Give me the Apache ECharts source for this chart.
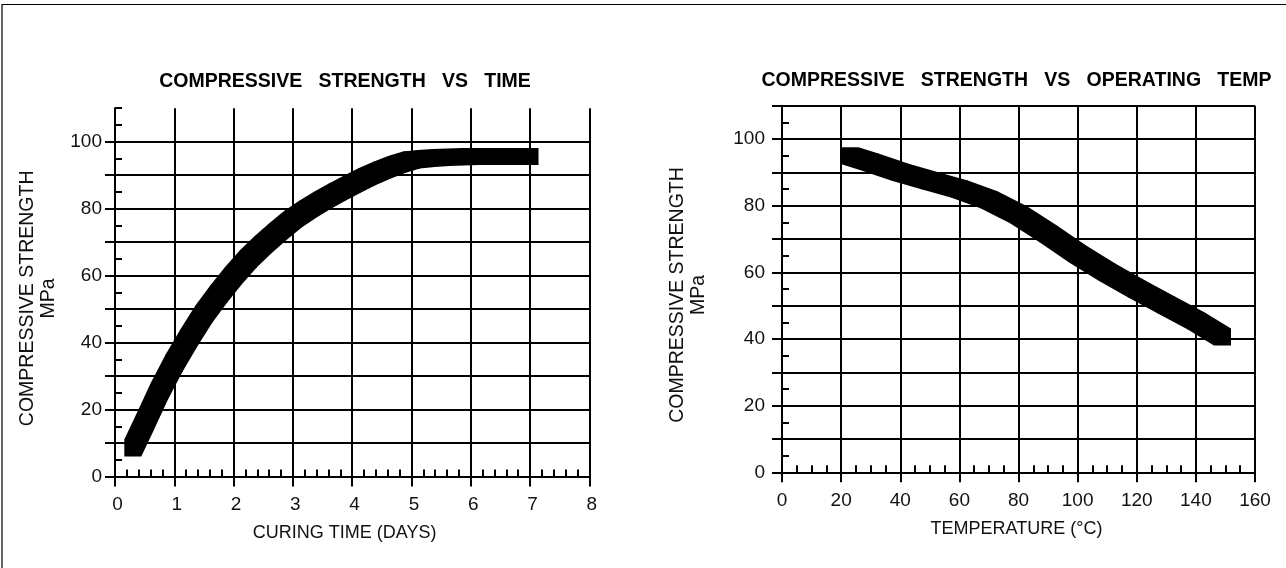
<!DOCTYPE html>
<html>
<head>
<meta charset="utf-8">
<script src="https://cdn.jsdelivr.net/npm/echarts@6/dist/echarts.min.js"></script>
<style>
html,body{margin:0;padding:0;background:#fff;}
#c{width:1286px;height:568px;}
</style>
</head>
<body>
<div id="c"></div>
<script>
// ---- data ----
const timeDays        = [0.3, 0.5, 0.75, 1, 1.25, 1.5, 1.75, 2, 2.25, 2.5, 2.75, 3, 3.25, 3.5, 3.75, 4, 4.25, 4.5, 4.75, 5, 5.25, 5.5, 6, 6.5, 7];
const strengthVsTime  = [8.5, 16, 25.5, 34, 41.5, 48.5, 54.5, 60, 65, 69.3, 73.2, 76.8, 79.8, 82.5, 85, 87.3, 89.5, 91.5, 93.2, 94.5, 95, 95.3, 95.6, 95.6, 95.6];
const tempC           = [23, 30, 40, 50, 60, 70, 80, 90, 100, 110, 120, 130, 140, 149];
const strengthVsTemp  = [95, 93, 90, 87.5, 85, 81.8, 77.3, 71.6, 65.5, 60, 55, 50.2, 45.5, 40.6];

const timeTickLabels     = [0, 1, 2, 3, 4, 5, 6, 7, 8];
const tempTickLabels     = [0, 20, 40, 60, 80, 100, 120, 140, 160];
const strengthTickLabels = [0, 20, 40, 60, 80, 100];
const strengthTickMarksL = [0, 10, 20, 30, 40, 50, 60, 70, 80, 90, 100];
const strengthTickMarksR = [0, 10, 20, 30, 40, 50, 60, 70, 80, 90, 100, 110];

const FONT = "'Liberation Sans', Arial, Helvetica, sans-serif";
const INK = '#000';
const LINE2 = { color: INK, width: 2 };

function segments(xs, ys) {
  const out = [];
  for (let i = 0; i < xs.length - 1; i++) out.push([xs[i], ys[i], xs[i + 1], ys[i + 1]]);
  return out;
}

function hull(pts) {
  pts.sort((a, b) => a[0] - b[0] || a[1] - b[1]);
  const cross = (o, a, b) => (a[0] - o[0]) * (b[1] - o[1]) - (a[1] - o[1]) * (b[0] - o[0]);
  const lower = [];
  for (const p of pts) {
    while (lower.length >= 2 && cross(lower[lower.length - 2], lower[lower.length - 1], p) <= 0) lower.pop();
    lower.push(p);
  }
  const upper = [];
  for (let i = pts.length - 1; i >= 0; i--) {
    const p = pts[i];
    while (upper.length >= 2 && cross(upper[upper.length - 2], upper[upper.length - 1], p) <= 0) upper.pop();
    upper.push(p);
  }
  upper.pop(); lower.pop();
  return lower.concat(upper);
}

// square-brush sweep between two consecutive data points
function sweep(params, api) {
  const a = api.coord([api.value(0), api.value(1)]);
  const b = api.coord([api.value(2), api.value(3)]);
  const h = 8.5;
  const pts = [];
  [a, b].forEach(p => {
    pts.push([p[0] - h, p[1] - h], [p[0] + h, p[1] - h], [p[0] + h, p[1] + h], [p[0] - h, p[1] + h]);
  });
  return { type: 'polygon', shape: { points: hull(pts) }, style: { fill: INK, lineWidth: 0 } };
}

function mainX(gridIndex, max, interval, name, labels, namePad, labelPad, labelMargin) {
  return {
    gridIndex, type: 'value', min: 0, max, interval, position: 'bottom',
    name, nameLocation: 'middle', nameGap: 46.5,
    nameTextStyle: { fontFamily: FONT, fontSize: 18, color: '#111', lineHeight: 20, padding: namePad },
    axisLine: { show: true, onZero: false, lineStyle: LINE2 },
    axisTick: { show: true, inside: false, length: 10, lineStyle: LINE2 },
    axisLabel: {
      show: true, margin: labelMargin, fontFamily: FONT, fontSize: 19, color: '#111', lineHeight: 20,
      padding: labelPad,
      formatter: v => (labels.indexOf(Math.round(v * 1000) / 1000) >= 0 ? String(v) : '')
    },
    splitLine: { show: true, lineStyle: LINE2 }
  };
}
function minorX(gridIndex, max, interval) {
  return {
    gridIndex, type: 'value', min: 0, max, interval, position: 'bottom',
    axisLine: { show: false, onZero: false },
    axisTick: { show: true, inside: true, length: 7, lineStyle: LINE2 },
    axisLabel: { show: false }, splitLine: { show: false }
  };
}
function mainY(gridIndex, nameGap, tickMarks, labelMargin) {
  return {
    gridIndex, type: 'value', min: 0, max: 110, interval: 10, position: 'left',
    name: 'COMPRESSIVE STRENGTH\nMPa', nameLocation: 'middle', nameRotate: 90, nameGap,
    nameTextStyle: { fontFamily: FONT, fontSize: 19.5, lineHeight: 21, color: '#111', padding: [0, 12, 0, 0] },
    axisLine: { show: true, onZero: false, lineStyle: LINE2 },
    axisTick: { show: true, inside: false, length: 10, lineStyle: LINE2, customValues: tickMarks },
    axisLabel: {
      show: true, margin: labelMargin, fontFamily: FONT, fontSize: 19, color: '#111',
      formatter: v => (strengthTickLabels.indexOf(v) >= 0 ? String(v) : '')
    },
    splitLine: { show: true, lineStyle: LINE2 }
  };
}
function minorY(gridIndex) {
  return {
    gridIndex, type: 'value', min: 0, max: 110, interval: 5, position: 'left',
    axisLine: { show: false, onZero: false },
    axisTick: { show: true, inside: true, length: 7, lineStyle: LINE2 },
    axisLabel: { show: false }, splitLine: { show: false }
  };
}

const chart = echarts.init(document.getElementById('c'), null, { renderer: 'canvas' });
chart.setOption({
  backgroundColor: '#fff',
  animation: false,
  grid: [
    { left: 115, right: 1286 - 589.3, top: 108.2, bottom: 568 - 476.5, outerBoundsMode: 'none', containLabel: false },
    { left: 782, right: 1286 - 1255, top: 105.7, bottom: 568 - 472.3, outerBoundsMode: 'none', containLabel: false }
  ],
  xAxis: [
    mainX(0, 8, 1, 'CURING TIME (DAYS)', timeTickLabels, [0, 15, 0, 0], [0, 0, 0, 5], 18.5),
    minorX(0, 8, 0.2),
    mainX(1, 160, 20, 'TEMPERATURE (°C)', tempTickLabels, [0, 4, 0, 0], [0, 0, 0, 0], 18),
    minorX(1, 160, 5)
  ],
  yAxis: [
    mainY(0, 55.5, strengthTickMarksL, 13),
    minorY(0),
    mainY(1, 73, strengthTickMarksR, 17),
    minorY(1)
  ],
  series: [
    {
      type: 'custom', xAxisIndex: 0, yAxisIndex: 0, silent: true, clip: false, z: 5,
      renderItem: sweep, encode: { x: [0, 2], y: [1, 3] },
      data: segments(timeDays, strengthVsTime)
    },
    {
      type: 'custom', xAxisIndex: 2, yAxisIndex: 2, silent: true, clip: false, z: 5,
      renderItem: sweep, encode: { x: [0, 2], y: [1, 3] },
      data: segments(tempC, strengthVsTemp)
    }
  ],
  graphic: [
    {
      type: 'rect', silent: true, z: 100,
      shape: { x: 2, y: 4.5, width: 1300, height: 600 },
      style: { fill: 'none', stroke: INK, lineWidth: 1.2 }
    },
    {
      type: 'text', x: 345, y: 82, silent: true,
      style: {
        text: 'COMPRESSIVE   STRENGTH   VS   TIME',
        fontFamily: FONT, fontSize: 19.5, fontWeight: 'bold', fill: INK,
        align: 'center', verticalAlign: 'middle', textAlign: 'center', textVerticalAlign: 'middle'
      }
    },
    {
      type: 'text', x: 1016.5, y: 81, silent: true,
      style: {
        text: 'COMPRESSIVE   STRENGTH   VS   OPERATING   TEMP',
        fontFamily: FONT, fontSize: 19.5, fontWeight: 'bold', fill: INK,
        align: 'center', verticalAlign: 'middle', textAlign: 'center', textVerticalAlign: 'middle'
      }
    }
  ]
});
</script>
</body>
</html>
